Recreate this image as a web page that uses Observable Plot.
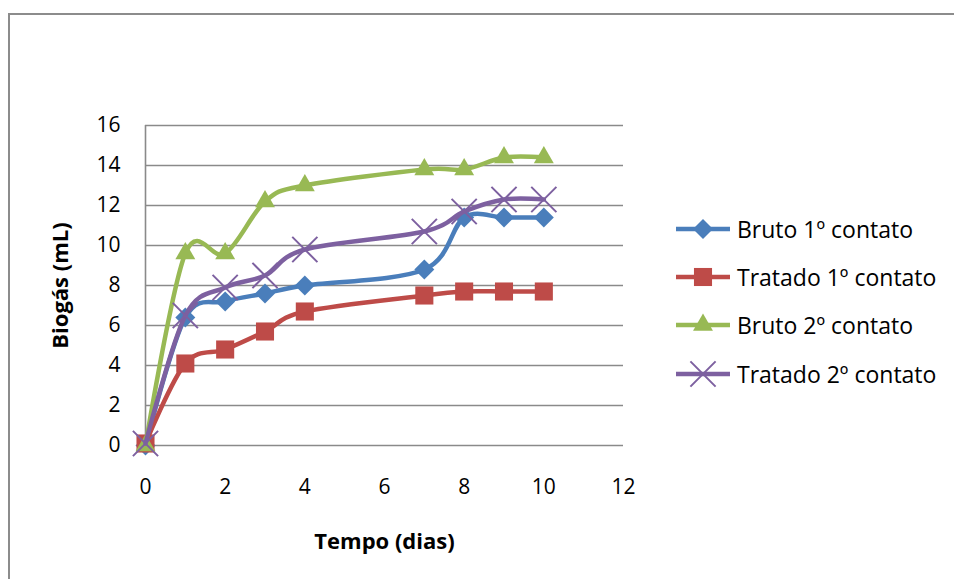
<!DOCTYPE html>
<html>
<head>
<meta charset="utf-8">
<script src="https://cdn.jsdelivr.net/npm/d3@7"></script>
<script src="https://cdn.jsdelivr.net/npm/@observablehq/plot@0.6"></script>
<style>
  html, body { margin: 0; padding: 0; background: #fff; }
  #wrap { position: relative; width: 954px; height: 579px; overflow: hidden; font-family: "Open Sans", Lato, sans-serif; }
  #frame { position: absolute; left: 8px; top: 13px; width: 1000px; height: 700px; border-top: 2px solid #8c8c8c; border-left: 2px solid #8c8c8c; box-sizing: border-box; }
  #chart { position: absolute; left: 0; top: 0; }
  #chart [aria-label="x-axis label"], #chart [aria-label="y-axis label"],
  #chart [aria-label="x-axis label"] text, #chart [aria-label="y-axis label"] text { font-weight: bold; font-size: 22px !important; }
  #legend { position: absolute; left: 675px; top: 0; }
  .row { position: absolute; left: 0; height: 32px; display: flex; align-items: center; white-space: nowrap; }
  .row span { font-size: 23px; color: #000; margin-left: 6px; }
</style>
</head>
<body>
<div id="wrap">
  <div id="frame"></div>
  <div id="chart"></div>
  <div id="legend"></div>
</div>
<script>
const days = [0, 1, 2, 3, 4, 7, 8, 9, 10];
const bruto1 = [0, 6.4, 7.2, 7.6, 8.0, 8.8, 11.4, 11.4, 11.4];
const tratado1 = [0.1, 4.1, 4.8, 5.7, 6.7, 7.5, 7.7, 7.7, 7.7];
const bruto2 = [0, 9.6, 9.6, 12.2, 13.0, 13.8, 13.8, 14.4, 14.4];
const tratado2 = [0.1, 6.5, 7.9, 8.5, 9.8, 10.7, 11.7, 12.3, 12.3];
const seriesNames = ["Bruto 1º contato", "Tratado 1º contato", "Bruto 2º contato", "Tratado 2º contato"];
const seriesColors = ["#4A7EBB", "#BE4B48", "#98B954", "#7D60A0"];
const xTicks = [0, 2, 4, 6, 8, 10, 12];
const yTicks = [0, 2, 4, 6, 8, 10, 12, 14, 16];

const allSeries = [bruto1, tratado1, bruto2, tratado2];
const symbols = ["diamond2", "square", "triangle", "times"];
const radii = [9, 10.2, 7.4, 11.5];

const marks = [
  Plot.gridY(yTicks, {stroke: "#8a8a8a", strokeOpacity: 1, strokeWidth: 1.6}),
  Plot.ruleX([0], {stroke: "#8a8a8a", strokeWidth: 1.6}),
  Plot.axisY(yTicks, {tickSize: 0, tickPadding: 25, fontSize: 21, label: "Biogás (mL)", labelAnchor: "center", labelOffset: 93, labelArrow: "none"}),
  Plot.axisX(xTicks, {tickSize: 0, tickPadding: 34, fontSize: 21, label: "Tempo (dias)", labelAnchor: "center", labelOffset: 103, labelArrow: "none"})
];
allSeries.forEach((vals, i) => {
  const data = days.map((d, j) => ({x: d, y: vals[j]}));
  marks.push(Plot.line(data, {x: "x", y: "y", stroke: seriesColors[i], strokeWidth: 4.5, curve: "cardinal", tension: 0}));
  if (symbols[i] === "times") {
    marks.push(Plot.dot(data, {x: "x", y: "y", symbol: "times", r: radii[i], stroke: seriesColors[i], strokeWidth: 2, fill: "none"}));
  } else {
    marks.push(Plot.dot(data, {x: "x", y: "y", symbol: symbols[i], r: radii[i], fill: seriesColors[i], stroke: "none"}));
  }
});

const chart = Plot.plot({
  width: 660,
  height: 579,
  marginLeft: 145,
  marginRight: 37,
  marginTop: 125,
  marginBottom: 134,
  style: {fontFamily: "'Open Sans', Lato, sans-serif", color: "#000", background: "transparent"},
  x: {domain: [0, 12], ticks: xTicks},
  y: {domain: [0, 16], ticks: yTicks},
  marks
});
document.getElementById("chart").appendChild(chart);

// Legend
const legend = document.getElementById("legend");
const rowY = [229, 277, 325, 374];
seriesNames.forEach((name, i) => {
  const row = document.createElement("div");
  row.className = "row";
  row.style.top = (rowY[i] - 16) + "px";
  const svg = d3.create("svg").attr("width", 56).attr("height", 32);
  svg.append("line").attr("x1", 1).attr("x2", 55).attr("y1", 16).attr("y2", 16)
    .attr("stroke", seriesColors[i]).attr("stroke-width", 4.5);
  const sym = {diamond2: d3.symbolDiamond2, square: d3.symbolSquare, triangle: d3.symbolTriangle, times: d3.symbolTimes}[symbols[i]];
  const size = Math.PI * radii[i] * radii[i];
  const p = svg.append("path").attr("transform", "translate(28,16)").attr("d", d3.symbol(sym, size)());
  if (symbols[i] === "times") p.attr("fill", "none").attr("stroke", seriesColors[i]).attr("stroke-width", 2);
  else p.attr("fill", seriesColors[i]);
  row.appendChild(svg.node());
  const t = document.createElement("span");
  t.textContent = name;
  row.appendChild(t);
  legend.appendChild(row);
});
</script>
</body>
</html>
